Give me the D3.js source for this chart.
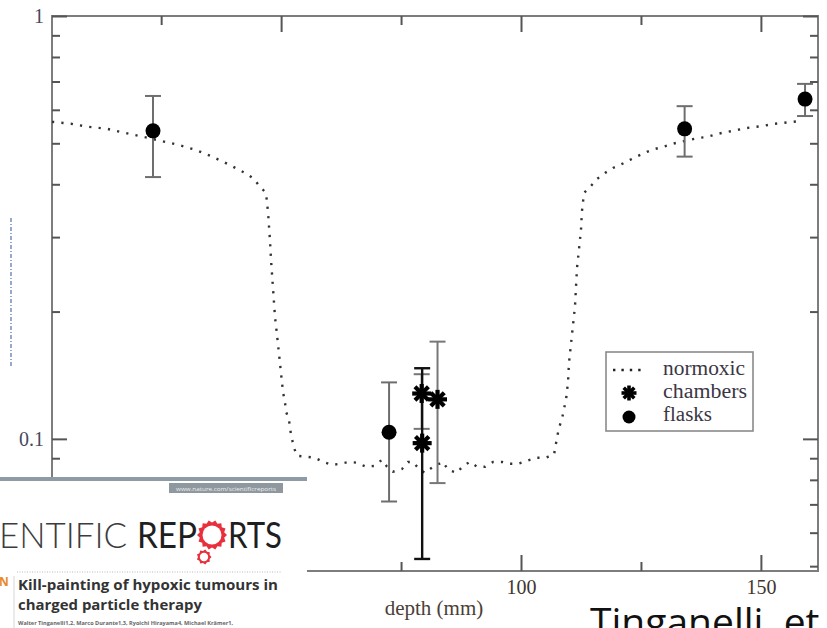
<!DOCTYPE html>
<html>
<head>
<meta charset="utf-8">
<script src="https://cdn.jsdelivr.net/npm/d3@7"></script>
<style>
  html, body { margin: 0; padding: 0; background: #fff; }
  svg { display: block; }
</style>
</head>
<body>
<svg id="chart" width="827" height="628"></svg>
<script>
// Normoxic survival curve (depth in mm, surviving fraction)
const curveDepth = [2.25, 6.21, 9.75, 13.71, 17.47, 21.22, 25.18, 28.51, 32.26, 35.81, 39.35, 42.89, 44.35, 45.6, 46.85,
  47.27, 47.69, 47.9, 48.31, 48.73, 49.15, 49.56, 49.98, 50.4, 50.81, 51.02, 51.65, 51.86, 52.27, 52.69, 53.31,
  55.4, 57.07, 58.73, 60.61, 62.28, 64.15, 65.82, 67.69, 69.36, 71.03, 72.07, 73.32, 75.2, 76.45, 77.49, 78.74,
  79.99, 81.66, 83.74, 84.79, 86.66, 87.91, 89.37, 90.83, 92.5, 94.16, 96.04, 97.71, 99.38, 101.25, 103.13, 105.0,
  106.88, 107.5, 107.92, 108.54, 108.96, 109.38, 109.8, 110.0, 110.42, 110.84, 111.26, 111.46, 111.67, 112.09,
  112.5, 112.71, 113.13, 114.59, 115.84, 117.51, 119.17, 121.05, 122.72, 124.39, 126.26, 127.93, 129.6, 131.47,
  133.14, 135.22, 136.89, 138.77, 140.85, 142.93, 145.02, 147.1, 148.77, 150.44, 152.52, 154.4, 156.48, 158.15];
const curveSurvival = [0.562, 0.556, 0.547, 0.541, 0.529, 0.518, 0.506, 0.496, 0.482, 0.464, 0.444, 0.423, 0.412, 0.394, 0.382,
  0.344, 0.294, 0.265, 0.2275, 0.194, 0.176, 0.159, 0.143, 0.129, 0.122, 0.116, 0.111, 0.1056, 0.1, 0.0952, 0.0912,
  0.0907, 0.0902, 0.0882, 0.0868, 0.0873, 0.0882, 0.0878, 0.0859, 0.0863, 0.0892, 0.0859, 0.0836, 0.0849, 0.0882, 0.0882, 0.0849,
  0.0831, 0.0859, 0.0882, 0.0845, 0.0831, 0.0863, 0.0882, 0.0859, 0.0859, 0.0882, 0.0882, 0.0873, 0.0873, 0.0887, 0.0902, 0.0902,
  0.0917, 0.1006, 0.1062, 0.1115, 0.1177, 0.1237, 0.1364, 0.1512, 0.1677, 0.186, 0.2063, 0.2287, 0.2536, 0.2813,
  0.3119, 0.3459, 0.3816, 0.3964, 0.4118, 0.4254, 0.4372, 0.4468, 0.4567, 0.4667, 0.477, 0.4849, 0.4902, 0.4983,
  0.5037, 0.5092, 0.5148, 0.5175, 0.526, 0.5318, 0.5376, 0.5435, 0.5465, 0.5495, 0.5556, 0.5585, 0.5617, 0.5647];

// Flask measurements
const flaskDepth = [23.3, 72.5, 134.1, 159.2];
const flaskSurvival = [0.535, 0.1037, 0.541, 0.636];
const flaskLow = [0.416, 0.0711, 0.465, 0.58];
const flaskHigh = [0.647, 0.136, 0.612, 0.691];

// Chamber measurements
const chamberDepth = [79.3, 79.4, 82.6];
const chamberSurvival = [0.128, 0.0977, 0.124];
const chamberLow = [0.1056, 0.052, 0.0786];
const chamberHigh = [0.1422, 0.1469, 0.1698];

// Axis ticks
const yMinorTicks = [0.05, 0.06, 0.07, 0.08, 0.09, 0.2, 0.3, 0.4, 0.5, 0.6, 0.7, 0.8, 0.9];
const yMajorTicks = [0.1, 1];
const yTickLabels = ["0.1", "1"];
const xMinorTicks = [25, 75, 125];
const xMajorTicks = [50, 100, 150];
const xTickLabels = ["", "100", "150"];

const legendLabels = ["normoxic", "chambers", "flasks"];

const svg = d3.select("#chart");
svg.append("rect").attr("width", 827).attr("height", 628).attr("fill", "#fff");

const x = d3.scaleLinear().domain([2.25, 161.9]).range([52, 818]);
const y = d3.scaleLog().domain([0.0487, 1]).range([571, 16]);

const serif = "'Liberation Serif', 'Times New Roman', serif";
const axisColor = "#7d7d7d";

// faint rotated axis title remnant on the far left
svg.append("line")
  .attr("x1", 11).attr("x2", 11).attr("y1", 218).attr("y2", 367)
  .attr("stroke", "#6a86bb").attr("stroke-width", 1.4).attr("stroke-dasharray", "4 2 1 2");

// frame
svg.append("rect")
  .attr("x", x.range()[0]).attr("y", y.range()[1])
  .attr("width", x.range()[1] - x.range()[0]).attr("height", y.range()[0] - y.range()[1])
  .attr("fill", "none").attr("stroke", axisColor).attr("stroke-width", 2);

function styleAxis(g, labelSize, labelColor) {
  g.select(".domain").remove();
  g.selectAll(".tick line").attr("stroke", "#555").attr("stroke-width", 2);
  g.selectAll(".tick text")
    .attr("font-family", serif).attr("font-size", labelSize).attr("fill", labelColor);
}

// left axis
svg.append("g").attr("transform", `translate(${x.range()[0]},0)`)
  .call(d3.axisLeft(y).tickValues(yMinorTicks).tickSize(-8).tickFormat(""))
  .call(g => styleAxis(g, 20, "#444"));
svg.append("g").attr("transform", `translate(${x.range()[0]},0)`)
  .call(d3.axisLeft(y).tickValues(yMajorTicks).tickSize(-15).tickPadding(8)
    .tickFormat((d, i) => yTickLabels[i]))
  .call(g => styleAxis(g, 20, "#454a60"));

// right axis
svg.append("g").attr("transform", `translate(${x.range()[1]},0)`)
  .call(d3.axisRight(y).tickValues(yMinorTicks).tickSize(-8).tickFormat(""))
  .call(g => styleAxis(g, 20, "#444"));
svg.append("g").attr("transform", `translate(${x.range()[1]},0)`)
  .call(d3.axisRight(y).tickValues(yMajorTicks).tickSize(-15).tickFormat(""))
  .call(g => styleAxis(g, 20, "#444"));

// top axis
svg.append("g").attr("transform", `translate(0,${y.range()[1]})`)
  .call(d3.axisTop(x).tickValues(xMinorTicks).tickSize(-9).tickFormat(""))
  .call(g => styleAxis(g, 20, "#444"));
svg.append("g").attr("transform", `translate(0,${y.range()[1]})`)
  .call(d3.axisTop(x).tickValues(xMajorTicks).tickSize(-16).tickFormat(""))
  .call(g => styleAxis(g, 20, "#444"));

// bottom axis
svg.append("g").attr("transform", `translate(0,${y.range()[0]})`)
  .call(d3.axisBottom(x).tickValues(xMinorTicks).tickSize(-9).tickFormat(""))
  .call(g => styleAxis(g, 20, "#444"));
svg.append("g").attr("transform", `translate(0,${y.range()[0]})`)
  .call(d3.axisBottom(x).tickValues(xMajorTicks).tickSize(-16).tickPadding(9)
    .tickFormat((d, i) => xTickLabels[i]))
  .call(g => styleAxis(g, 20, "#3e3530"));

// x-axis title
svg.append("text")
  .attr("x", 434).attr("y", 615).attr("text-anchor", "middle")
  .attr("font-family", serif).attr("font-size", 21).attr("fill", "#4a3e36")
  .text("depth (mm)");

// normoxic curve, dotted
const curvePts = curveDepth.map((d, i) => [d, curveSurvival[i]]);
svg.append("path")
  .datum(curvePts)
  .attr("d", d3.line().x(d => x(d[0])).y(d => y(d[1])))
  .attr("fill", "none").attr("stroke", "#333").attr("stroke-width", 2.4)
  .attr("stroke-dasharray", "2.2 7.2");

// error bars
function errorBar(g, cx, lo, hi, color, width) {
  g.append("line").attr("x1", cx).attr("x2", cx).attr("y1", y(lo)).attr("y2", y(hi))
    .attr("stroke", color).attr("stroke-width", width);
  [lo, hi].forEach(v => g.append("line")
    .attr("x1", cx - 8).attr("x2", cx + 8).attr("y1", y(v)).attr("y2", y(v))
    .attr("stroke", color).attr("stroke-width", width));
}

const bars = svg.append("g");
flaskDepth.forEach((d, i) => errorBar(bars, x(d), flaskLow[i], flaskHigh[i], "#6e6e6e", 2));
chamberDepth.forEach((d, i) => {
  const dark = i === 1;
  errorBar(bars, x(d), chamberLow[i], chamberHigh[i], dark ? "#111" : "#777", dark ? 2.4 : 2);
});

// heavy eight-armed asterisk marker
function asterisk(g, cx, cy, r, w) {
  const s = g.append("g").attr("transform", `translate(${cx},${cy})`);
  [0, 45, 90, 135].forEach(deg => {
    const a = deg * Math.PI / 180;
    s.append("line")
      .attr("x1", -r * Math.cos(a)).attr("y1", -r * Math.sin(a))
      .attr("x2", r * Math.cos(a)).attr("y2", r * Math.sin(a))
      .attr("stroke", "#000").attr("stroke-width", w);
  });
  s.append("circle").attr("r", r * 0.5).attr("fill", "#000");
}

// flasks
svg.append("g").selectAll("circle")
  .data(flaskDepth)
  .join("circle")
  .attr("cx", d => x(d))
  .attr("cy", (d, i) => y(flaskSurvival[i]))
  .attr("r", 7.5).attr("fill", "#000");

// chambers
const stars = svg.append("g");
chamberDepth.forEach((d, i) => asterisk(stars, x(d), y(chamberSurvival[i]), 9.5, 4.2));

// legend
const lg = svg.append("g");
lg.append("rect").attr("x", 606).attr("y", 352).attr("width", 147).attr("height", 79)
  .attr("fill", "#fff").attr("stroke", "#8a8a8a").attr("stroke-width", 1.6);
const rowY = [370, 393, 416];
lg.append("line").attr("x1", 613).attr("x2", 646).attr("y1", rowY[0]).attr("y2", rowY[0])
  .attr("stroke", "#222").attr("stroke-width", 2.4).attr("stroke-dasharray", "2.4 6");
asterisk(lg, 629, rowY[1], 7.5, 3.6);
lg.append("circle").attr("cx", 629).attr("cy", rowY[2] + 1).attr("r", 6.5).attr("fill", "#000");
lg.selectAll("text.leg")
  .data(legendLabels)
  .join("text")
  .attr("class", "leg")
  .attr("x", 663).attr("y", (d, i) => rowY[i] + 5)
  .attr("font-family", serif).attr("font-size", 20).attr("fill", "#3b3644")
  .attr("textLength", (d, i) => [82, 84, 49][i]).attr("lengthAdjust", "spacingAndGlyphs")
  .text(d => d);

// journal header clipping in the lower left
const ov = svg.append("g");
ov.append("rect").attr("x", 0).attr("y", 477).attr("width", 307).attr("height", 151).attr("fill", "#fff");
ov.append("rect").attr("x", 0).attr("y", 477).attr("width", 307).attr("height", 4).attr("fill", "#8d9ba4");
ov.append("rect").attr("x", 169).attr("y", 483).attr("width", 114).attr("height", 10).attr("fill", "#8f989e");
ov.append("text").attr("x", 226).attr("y", 490.5).attr("text-anchor", "middle")
  .attr("font-family", "'Open Sans', sans-serif").attr("font-size", 6).attr("fill", "#eef0f2")
  .attr("textLength", 100).attr("lengthAdjust", "spacingAndGlyphs")
  .text("www.nature.com/scientificreports");

const sans = "Lato, 'Open Sans', sans-serif";
ov.append("text").attr("x", -1).attr("y", 548).attr("font-family", sans).attr("font-weight", 300)
  .attr("font-size", 36).attr("fill", "#3c3c3c")
  .attr("textLength", 128).attr("lengthAdjust", "spacingAndGlyphs").text("ENTIFIC");
ov.append("text").attr("x", 137).attr("y", 548).attr("font-family", sans).attr("font-weight", 400)
  .attr("font-size", 36).attr("fill", "#1f1f1f")
  .attr("textLength", 60).attr("lengthAdjust", "spacingAndGlyphs").text("REP");
ov.append("text").attr("x", 228).attr("y", 548).attr("font-family", sans).attr("font-weight", 400)
  .attr("font-size", 36).attr("fill", "#1f1f1f")
  .attr("textLength", 54).attr("lengthAdjust", "spacingAndGlyphs").text("RTS");

// gear logo standing in for the "O"
function gearPath(cx, cy, rOut, rIn, teeth) {
  const pts = [];
  for (let k = 0; k < teeth * 2; k++) {
    const a = k * Math.PI / teeth;
    const r = k % 2 === 0 ? rOut : rIn;
    pts.push([cx + r * Math.cos(a), cy + r * Math.sin(a)]);
  }
  return "M" + pts.map(p => p.join(",")).join("L") + "Z";
}
ov.append("path").attr("d", gearPath(212, 535, 15, 12.5, 14)).attr("fill", "#e8303c");
ov.append("circle").attr("cx", 212).attr("cy", 535).attr("r", 9.5).attr("fill", "#fff");
ov.append("path").attr("d", gearPath(204, 557, 7.5, 6, 9)).attr("fill", "#e8303c");
ov.append("circle").attr("cx", 204).attr("cy", 557).attr("r", 4.2).attr("fill", "#fff");

ov.append("line").attr("x1", 17).attr("x2", 282).attr("y1", 572).attr("y2", 572)
  .attr("stroke", "#b9b9b9").attr("stroke-width", 1).attr("stroke-dasharray", "1 1.5");
ov.append("line").attr("x1", 14).attr("x2", 14).attr("y1", 576).attr("y2", 628)
  .attr("stroke", "#d6d6d6").attr("stroke-width", 1);
ov.append("text").attr("x", -1).attr("y", 586).attr("font-family", "'Open Sans', sans-serif")
  .attr("font-weight", 700).attr("font-size", 12).attr("fill", "#e8892b").text("N");

const titleFont = "'Open Sans', 'Noto Sans', sans-serif";
ov.append("text").attr("x", 18).attr("y", 590).attr("font-family", titleFont).attr("font-weight", 700)
  .attr("font-size", 15).attr("fill", "#333")
  .attr("textLength", 260).attr("lengthAdjust", "spacingAndGlyphs")
  .text("Kill-painting of hypoxic tumours in");
ov.append("text").attr("x", 18).attr("y", 610).attr("font-family", titleFont).attr("font-weight", 700)
  .attr("font-size", 15).attr("fill", "#333")
  .attr("textLength", 184).attr("lengthAdjust", "spacingAndGlyphs")
  .text("charged particle therapy");
ov.append("text").attr("x", 18).attr("y", 625).attr("font-family", titleFont).attr("font-weight", 700)
  .attr("font-size", 5.5).attr("fill", "#666")
  .attr("textLength", 215).attr("lengthAdjust", "spacingAndGlyphs")
  .text("Walter Tinganelli1,2, Marco Durante1,3, Ryoichi Hirayama4, Michael Krämer1,");

// citation caption in the lower right
svg.append("text").attr("x", 590).attr("y", 636)
  .attr("font-family", "'Open Sans', sans-serif").attr("font-size", 39).attr("fill", "#111")
  .text("Tinganelli, et al.");
</script>
</body>
</html>
